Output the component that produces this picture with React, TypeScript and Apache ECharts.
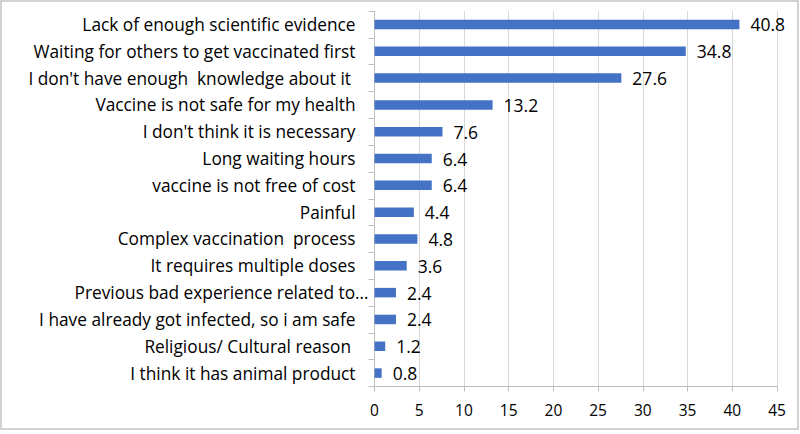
import React, { useEffect, useRef } from "react";
import * as echarts from "echarts";

const categories = [
  "Lack of enough scientific evidence",
  "Waiting for others to get vaccinated first",
  "I don't have enough  knowledge about it ",
  "Vaccine is not safe for my health",
  "I don't think it is necessary",
  "Long waiting hours",
  "vaccine is not free of cost",
  "Painful",
  "Complex vaccination  process",
  "It requires multiple doses",
  "Previous bad experience related to…",
  "I have already got infected, so i am safe",
  "Religious/ Cultural reason ",
  "I think it has animal product",
];
const values = [40.8, 34.8, 27.6, 13.2, 7.6, 6.4, 6.4, 4.4, 4.8, 3.6, 2.4, 2.4, 1.2, 0.8];
const xMin = 0;
const xMax = 45;
const xInterval = 5;

const FONT = "Open Sans";
const CAT_SIZE = 17.3;

export default function App() {
  const ref = useRef<HTMLDivElement>(null);
  useEffect(() => {
    document.body.style.margin = "0";
    if (!ref.current) return;
    const chart = echarts.init(ref.current, undefined, { renderer: "svg" });
    const cats = categories.slice().reverse();
    const vals = values.slice().reverse();
    chart.setOption({
      animation: false,
      backgroundColor: "#ffffff",
      textStyle: { fontFamily: FONT },
      grid: { left: 374.5, right: 23, top: 11, bottom: 47.5, containLabel: false },
      xAxis: {
        type: "value",
        min: xMin,
        max: xMax,
        interval: xInterval,
        axisLine: { show: true, lineStyle: { color: "#bfbfbf", width: 1 } },
        axisTick: { show: true, length: 5, lineStyle: { color: "#bfbfbf" } },
        splitLine: { show: true, lineStyle: { color: "#d9d9d9", width: 1 } },
        axisLabel: { color: "#000", fontSize: 15.5, fontFamily: FONT, margin: 15 },
      },
      yAxis: {
        type: "category",
        data: cats,
        axisLine: { show: true, lineStyle: { color: "#bfbfbf", width: 1 } },
        axisTick: { show: true, length: 6, lineStyle: { color: "#bfbfbf" } },
        axisLabel: {
          color: "#000",
          fontSize: CAT_SIZE,
          fontFamily: FONT,
          margin: 6,
          formatter: (v: string) => (v.endsWith("…") ? "{b|" + v + "}" : "{a|" + v + "}"),
          rich: {
            a: { padding: [0, 13, 0, 0], fontSize: CAT_SIZE, fontFamily: FONT, color: "#000" },
            b: { fontSize: CAT_SIZE, fontFamily: FONT, color: "#000" },
          },
        },
      },
      series: [
        {
          type: "bar",
          data: vals,
          barWidth: 9.5,
          itemStyle: { color: "#4472c4" },
          label: {
            show: true,
            position: "right",
            distance: 11,
            color: "#000",
            fontSize: 17.5,
            fontFamily: FONT,
          },
        },
      ],
      graphic: [
        {
          type: "rect",
          shape: { x: 1, y: 1, width: 797, height: 428 },
          style: { fill: "none", stroke: "#c4c4c4", lineWidth: 1.5 },
          silent: true,
        },
      ],
    });
    return () => chart.dispose();
  }, []);
  return <div ref={ref} style={{ width: 800, height: 434 }} />;
}
